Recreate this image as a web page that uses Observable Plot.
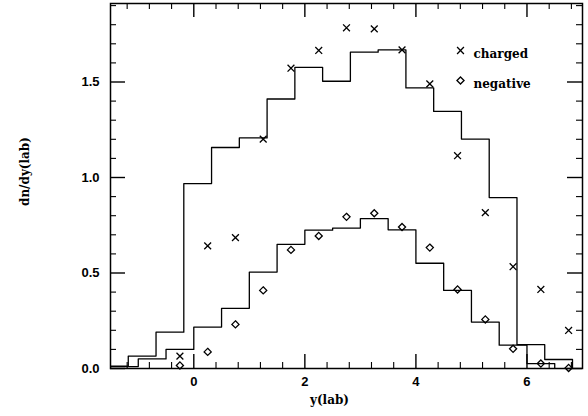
<!DOCTYPE html>
<html>
<head>
<meta charset="utf-8">
<script src="https://cdn.jsdelivr.net/npm/d3@7"></script>
<script src="https://cdn.jsdelivr.net/npm/@observablehq/plot@0.6"></script>
<style>
  html, body { margin: 0; padding: 0; background: #fff; }
  #chart svg { display: block; }
</style>
</head>
<body>
<div id="chart"></div>
<script>
// Histogram bin edges and heights
const negEdges = [-1.5,-1,-0.5,0,0.5,1,1.5,2,2.5,3,3.5,4,4.5,5,5.5,6,6.5];
const negHist  = [0.01,0.05,0.10,0.217,0.315,0.505,0.65,0.724,0.735,0.785,0.726,0.551,0.409,0.243,0.122,0.026];
const chEdges  = [-1.68,-1.18,-0.68,-0.18,0.32,0.82,1.32,1.82,2.32,2.82,3.32,3.82,4.32,4.82,5.32,5.82,6.32,6.82];
const chHist   = [0.012,0.065,0.19,0.968,1.157,1.207,1.411,1.577,1.504,1.656,1.668,1.469,1.346,1.201,0.895,0.125,0.047];

// Data points (bin centres)
const ptX      = [-0.25,0.25,0.75,1.25,1.75,2.25,2.75,3.25,3.75,4.25,4.75,5.25,5.75,6.25,6.75];
const chPts    = [0.065,0.642,0.685,1.201,1.572,1.665,1.784,1.778,1.668,1.49,1.114,0.816,0.533,0.414,0.199];
const negPts   = [0.016,0.087,0.231,0.409,0.621,0.694,0.794,0.813,0.741,0.633,0.414,0.257,0.103,0.026,0.003];

// Ticks
const xMajor = [0, 2, 4, 6];
const xMinor = [-1.2,-0.8,-0.4,0.4,0.8,1.2,1.6,2.4,2.8,3.2,3.6,4.4,4.8,5.2,5.6,6.4,6.8];
const yMajor = [0, 0.5, 1.0, 1.5];
const yMinor = [0.1,0.2,0.3,0.4,0.6,0.7,0.8,0.9,1.1,1.2,1.3,1.4,1.6,1.7,1.8,1.9];

const legendLabels = ["charged", "negative"];
const legendSymbols = ["times", "diamond2"];

function steps(edges, vals) {
  const pts = [{x: edges[0], y: 0}];
  vals.forEach((v, i) => pts.push({x: edges[i], y: v}));
  pts.push({x: edges[edges.length - 1], y: 0});
  return pts;
}

const chStep = steps(chEdges, chHist);
const negStep = steps(negEdges, negHist);
const chDots = ptX.map((x, i) => ({x, y: chPts[i]}));
const negDots = ptX.map((x, i) => ({x, y: negPts[i]}));

const serif = "'DejaVu Serif', serif";
const sans = "'Liberation Sans', Arial, sans-serif";

const W = 588, H = 416, mL = 110, mR = 6, mT = 3, mB = 48;
const fw = W - mL - mR, fh = H - mT - mB;

// inward ticks drawn as short rules on every side of the frame
function xTicks(values, len, sw) {
  return [
    Plot.ruleX(values, {x: d => d, insetTop: fh - len, stroke: "#000", strokeWidth: sw}),
    Plot.ruleX(values, {x: d => d, insetBottom: fh - len, stroke: "#000", strokeWidth: sw})
  ];
}
function yTicks(values, len, sw) {
  return [
    Plot.ruleY(values, {y: d => d, insetRight: fw - len, stroke: "#000", strokeWidth: sw}),
    Plot.ruleY(values, {y: d => d, insetLeft: fw - len, stroke: "#000", strokeWidth: sw})
  ];
}

const legendMarks = [];
legendLabels.forEach((lab, i) => {
  legendMarks.push(
    Plot.dot([legendSymbols[i]], {frameAnchor: "top-right", dx: -122, dy: 47 + 30 * i, symbol: d => d, r: 3.2, stroke: "#000", strokeWidth: 1.3}),
    Plot.text([lab], {frameAnchor: "top-right", dx: -109, dy: 46 + 30 * i, textAnchor: "start", fontFamily: serif, fontWeight: "bold", fontSize: 12, fill: "#000"})
  );
});

const chart = Plot.plot({
  width: W,
  height: H,
  marginLeft: mL,
  marginRight: mR,
  marginTop: mT,
  marginBottom: mB,
  style: {fontFamily: sans, fontSize: "13px", color: "#000", background: "#fff"},
  x: {domain: [-1.5, 7], axis: null},
  y: {domain: [0, 1.911], axis: null},
  marks: [
    ...xTicks(xMajor, 14, 1.4),
    ...xTicks(xMinor, 6, 1.1),
    ...yTicks(yMajor, 15, 1.4),
    ...yTicks(yMinor, 6, 1.1),
    // tick labels
    Plot.axisX({anchor: "bottom", ticks: xMajor, tickSize: 0, tickPadding: 8, tickFormat: d3.format("d"), label: null, fontSize: 13, fontWeight: "bold"}),
    Plot.axisY({anchor: "left", ticks: yMajor, tickSize: 0, tickPadding: 11, tickFormat: d3.format(".1f"), label: null, fontSize: 13, fontWeight: "bold"}),
    // histograms
    Plot.line(chStep, {x: "x", y: "y", curve: "step-after", stroke: "#000", strokeWidth: 1.3, clip: true}),
    Plot.line(negStep, {x: "x", y: "y", curve: "step-after", stroke: "#000", strokeWidth: 1.3, clip: true}),
    // data points
    Plot.dot(chDots, {x: "x", y: "y", symbol: "times", r: 3.2, stroke: "#000", strokeWidth: 1.3}),
    Plot.dot(negDots, {x: "x", y: "y", symbol: "diamond2", r: 3.2, stroke: "#000", strokeWidth: 1.3}),
    // frame
    Plot.frame({stroke: "#000", strokeWidth: 1.5}),
    // legend
    ...legendMarks,
    // axis labels
    Plot.text(["dn/dy(lab)"], {frameAnchor: "left", dx: -85, dy: 20, rotate: -90, fontFamily: serif, fontWeight: "bold", fontSize: 12, fill: "#000"}),
    Plot.text(["y(lab)"], {frameAnchor: "bottom", dx: -17, dy: 35, fontFamily: serif, fontWeight: "bold", fontSize: 12, fill: "#000"})
  ]
});

document.getElementById("chart").appendChild(chart);
</script>
</body>
</html>
